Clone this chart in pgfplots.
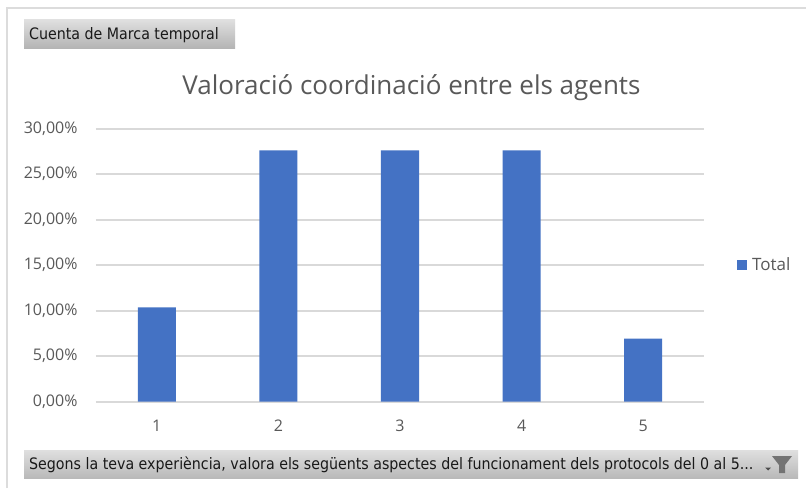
\documentclass[border=0pt]{standalone}
\usepackage{pgfplots}
\pgfplotsset{compat=1.18}
\usepackage{fontspec}
\setmainfont{Open Sans}
\newfontfamily\btnfont{DejaVu Sans Condensed}
\definecolor{barblue}{HTML}{4472C4}
\definecolor{gridgray}{HTML}{D9D9D9}
\definecolor{txtgray}{HTML}{595959}
\definecolor{framegray}{HTML}{DCDCDC}
\begin{document}
\begin{tikzpicture}[x=1pt,y=1pt]
\path[use as bounding box,fill=white] (0,0) rectangle (806,488);
\draw[framegray,line width=1.6pt] (7,0) -- (7,480) -- (806,480);
\shade[top color=gray!25,bottom color=gray!60] (24,439) rectangle (235,468);
\node[anchor=west,inner sep=0pt,font=\btnfont\fontsize{15.8}{17}\selectfont,text=black!90] at (29,452.5) {Cuenta de Marca temporal};
\shade[top color=gray!25,bottom color=gray!55] (24,10) rectangle (798,38);
\node[anchor=west,inner sep=0pt,font=\btnfont\fontsize{15.8}{17}\selectfont,text=black!90] at (29,23.5) {Segons la teva experiència, valora els següents aspectes del funcionament dels protocols del 0 al 5...};
\fill[black!70] (765,20.5) -- (771,20.5) -- (768,17.5) -- cycle;
\fill[black!55] (772,32) -- (792,32) -- (785,23) -- (785,15) -- (779,15) -- (779,23) -- cycle;
\begin{axis}[
  at={(96pt,86.5pt)}, anchor=south west, scale only axis,
  width=608pt, height=273pt,
  xmin=0.5, xmax=5.5, ymin=0, ymax=30,
  xtick={1,2,3,4,5}, ytick={0,5,10,15,20,25,30},
  yticklabel={\pgfmathparse{int(\tick)}\pgfmathresult,00\%},
  xticklabel={\pgfmathparse{int(\tick)}\pgfmathresult},
  ymajorgrids, grid style={gridgray,line width=2pt},
  axis line style={draw=none},
  axis x line*=bottom, axis y line*=left,
  major tick length=0pt,
  tick label style={font=\fontsize{16}{18}\selectfont,text=txtgray},
  xticklabel style={yshift=-15pt},
  yticklabel style={xshift=-15pt},
  title={Valoració coordinació entre els agents},
  title style={font=\fontsize{26}{29}\selectfont,text=txtgray,at={(0.5,1)},anchor=south,yshift=18pt,xshift=11.5pt},
  legend style={at={(1.0,0.5)},anchor=west,xshift=33pt,draw=none,fill=none,font=\fontsize{17}{18}\selectfont,text=txtgray,inner sep=0pt,legend cell align=left},
  legend image code/.code={\fill[barblue] (0pt,-5pt) rectangle (10pt,5pt);\path (13pt,0pt);},
  clip=false,
]
\addplot[ybar,bar width=38pt,fill=barblue,draw=none] coordinates {(1,10.34) (2,27.59) (3,27.59) (4,27.59) (5,6.90)};
\addlegendentry{Total}
\end{axis}
\end{tikzpicture}
\end{document}
